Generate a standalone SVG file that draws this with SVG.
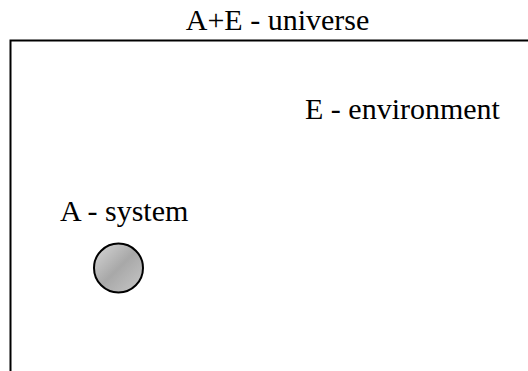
<svg xmlns="http://www.w3.org/2000/svg" width="528" height="371" viewBox="0 0 528 371">
<style>
text{font-family:'Liberation Serif','Times New Roman',Times,serif;font-size:30px;fill:#000}
</style>
<defs>
<linearGradient id="g" x1="0" y1="0" x2="1" y2="1">
<stop offset="0" stop-color="#d8d8d8"/>
<stop offset="0.5" stop-color="#a8a8a8"/>
<stop offset="1" stop-color="#c8c8c8"/>
</linearGradient>
</defs>
<rect width="528" height="371" fill="#fff"/>
<g id="universe">
<path d="M10.5,371 V40.5 H528" fill="none" stroke="#000" stroke-width="2"/>
<text x="277.5" y="30" text-anchor="middle">A+E - universe</text>
</g>
<g id="environment">
<text x="305" y="119">E - environment</text>
</g>
<g id="system">
<text x="60" y="221">A - system</text>
<circle cx="118.5" cy="268" r="24.5" fill="url(#g)" stroke="#000" stroke-width="2"/>
</g>
<g id="connectors"/>
</svg>
